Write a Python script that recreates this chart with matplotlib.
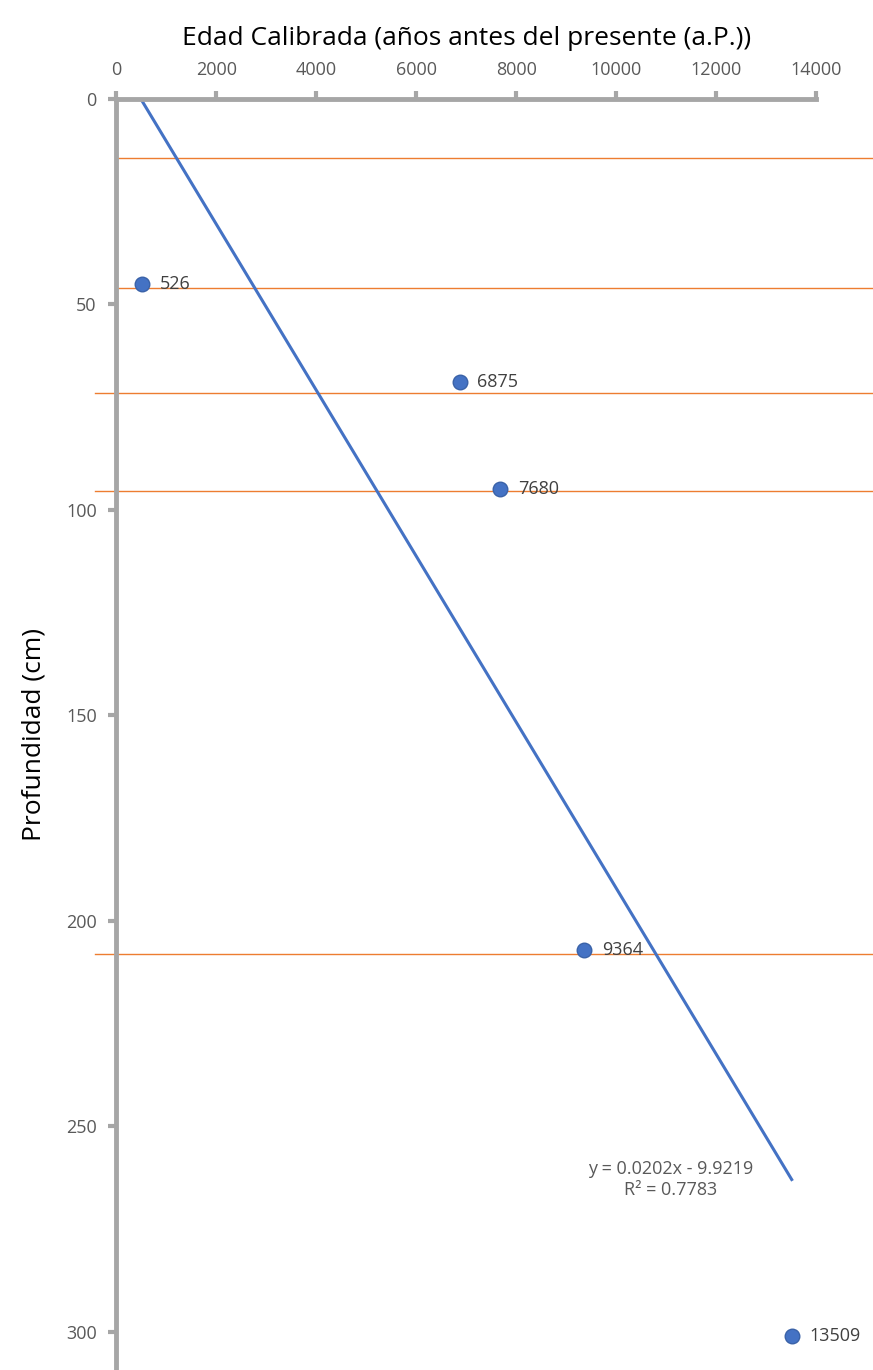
import matplotlib.pyplot as plt

# ages (cal a.P.) and depths (cm)
edad = [526, 6875, 7680, 9364, 13509]
prof = [45, 69, 95, 207, 301]
etiquetas = ["526", "6875", "7680", "9364", "13509"]
limites = [14.5, 46, 71.5, 95.5, 208]
lim_inicio = [0.0, 0.0, -0.03, -0.03, -0.03]
pendiente, intercepto = 0.0202, -9.9219

plt.rcParams['font.family'] = ['Open Sans', 'DejaVu Sans']
fig = plt.figure(figsize=(8.73, 13.70), dpi=100)
ax = fig.add_axes([0.133, 0.0, 0.802, 0.928])

gris = "#a6a6a6"
for y, x0 in zip(limites, lim_inicio):
    ax.plot([x0, 1.08], [y, y], color="#ed7d31", lw=1, clip_on=False,
            transform=ax.get_yaxis_transform())

x_tend = [edad[0], edad[-1]]
y_tend = [max(0, pendiente * x + intercepto) for x in x_tend]
ax.plot(x_tend, y_tend, color="#4472c4", lw=2.2)

ax.scatter(edad, prof, s=110, color="#4472c4", zorder=3, edgecolors="#3a62a8")
for x, y, t in zip(edad, prof, etiquetas):
    ax.text(x + 350, y, t, fontsize=13, color="#404040", va="center", ha="left")

ax.text(11080, 263, "y = 0.0202x - 9.9219\nR² = 0.7783", fontsize=13,
        color="#595959", ha="center", va="center", linespacing=1.2)

ax.set_xlim(0, 14000)
ax.set_ylim(309.3, 0)
ax.xaxis.tick_top()
ax.xaxis.set_label_position("top")
ax.set_xticks(range(0, 14001, 2000))
ax.set_yticks(range(0, 301, 50))
for s in ["right", "bottom"]:
    ax.spines[s].set_visible(False)
for s in ["top", "left"]:
    ax.spines[s].set_color(gris)
    ax.spines[s].set_linewidth(3.5)
ax.tick_params(colors=gris, labelcolor="#595959", labelsize=13, width=3, length=6,
               direction="out", pad=8)
ax.set_xlabel("Edad Calibrada (años antes del presente (a.P.))", fontsize=19, labelpad=12)
ax.set_ylabel("Profundidad (cm)", fontsize=19, labelpad=14)

fig.savefig("out.png", dpi=100)
